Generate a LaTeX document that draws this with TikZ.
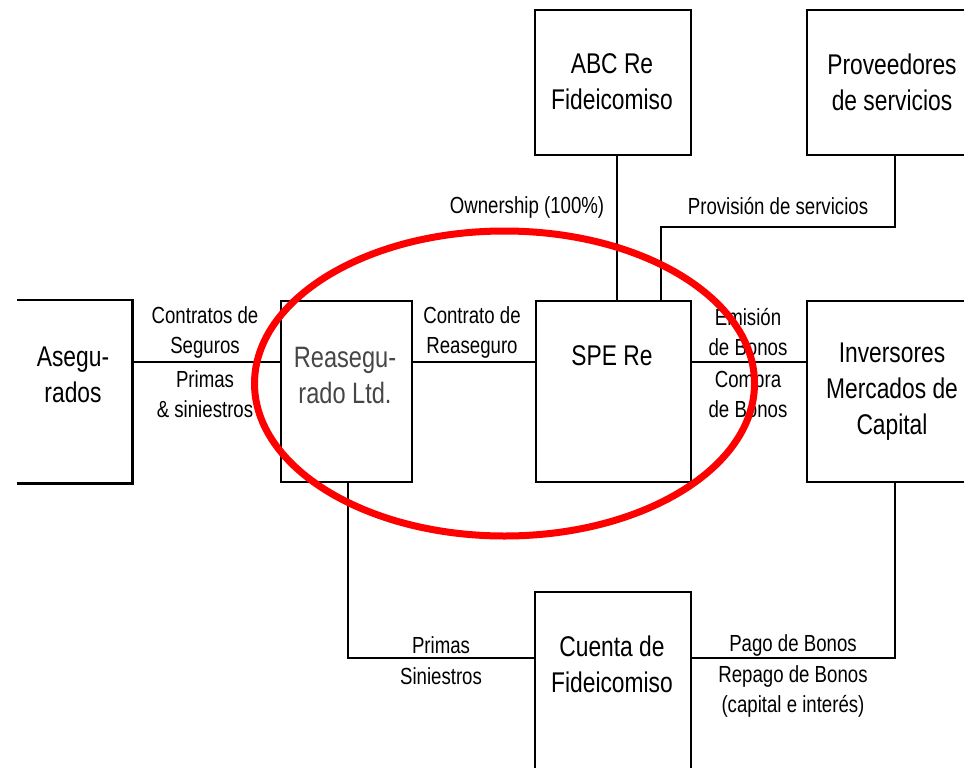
\documentclass[tikz,border=0pt]{standalone}
\usepackage{fontspec}
\setmainfont{Liberation Sans}[FakeStretch=0.8]
\begin{document}
\begin{tikzpicture}[x=1pt,y=-1pt,
  box/.style={draw=black, line width=2.4pt, inner sep=0pt, anchor=north west},
  edge/.style={draw=black, line width=2.4pt},
  btext/.style={font=\fontsize{28.5}{36}\selectfont, align=center, inner sep=0pt},
  lab/.style={font=\fontsize{23.3}{30}\selectfont, align=center, inner sep=0pt},
  ring/.style={draw={rgb,255:red,255;green,0;blue,0}, line width=7pt}]
\useasboundingbox (0,0) rectangle (964,768);
% boxes
\node[box, draw=none, minimum width=120pt, minimum height=181pt] (ase) at (10,300) {};
\draw[edge] ([xshift=7pt]ase.north west) -- (ase.north east) -- (ase.south east) -- ([xshift=7pt]ase.south west);
\node[box, minimum width=131pt, minimum height=181pt] (reaseg) at (280,300) {};
\node[box, minimum width=155pt, minimum height=181pt] (spe) at (535,300) {};
\node[box, minimum width=156pt, minimum height=145pt] (abc) at (534,9) {};
\node[box, minimum width=172pt, minimum height=145pt] (prov) at (806,9) {};
\node[box, minimum width=172pt, minimum height=181pt] (inv) at (806,300) {};
\node[box, minimum width=156pt, minimum height=230pt] (cuenta) at (534,591) {};
% box texts
\node[btext] (tase) at (73,374.5) {Asegu-\\rados};
\node[btext, text={rgb,255:red,70;green,70;blue,70}, font=\fontsize{29.5}{36}\selectfont] (treaseg) at (345,375) {Reasegu-\\rado Ltd.};
\node[btext] (tspe) at (612,356) {SPE Re};
\node[btext] (tabc) at (612,82) {ABC Re\\Fideicomiso};
\node[btext] (tprov) at (892,82) {Proveedores\\de servicios};
\node[btext] (tinv) at (892,392) {Inversores\\Mercados de\\Capital};
\node[btext] (tcuenta) at (612,664.5) {Cuenta de\\Fideicomiso};
% connectors
\draw[edge] (ase.east |- 0,362) -- (reaseg.west |- 0,362);
\draw[edge] (reaseg.east |- 0,362) -- (spe.west |- 0,362);
\draw[edge] (spe.east |- 0,362) -- (inv.west |- 0,362);
\draw[edge] (abc.south -| 617,0) -- (spe.north -| 617,0);
\draw[edge] (prov.south -| 895,0) -- (895,227) -| (spe.north -| 661,0);
\draw[edge] (reaseg.south -| 348,0) |- (cuenta.west |- 0,658);
\draw[edge] (inv.south -| 895,0) |- (cuenta.east |- 0,658);
% connector labels
\node[lab] (l1a) at (205,332) {Contratos de\\Seguros};
\node[lab] (l1b) at (205,394.5) {Primas\\\& siniestros};
\node[lab] (l2) at (472,332) {Contrato de\\Reaseguro};
\node[lab] (l3a) at (748,332) {Emisión\\de Bonos};
\node[lab] (l3b) at (748,394.5) {Compra\\de Bonos};
\node[lab] (l4) at (527,207) {Ownership (100\%)};
\node[lab] (l5) at (778,206) {Provisión de servicios};
\node[lab] (l6a) at (441,645) {Primas};
\node[lab] (l6b) at (441,676) {Siniestros};
\node[lab] (l7a) at (793,645) {Pago de Bonos};
\node[lab] (l7b) at (793,691) {Repago de Bonos\\(capital e interés)};
% red ellipse
\draw[ring] (504.5,383.5) ellipse [x radius=250, y radius=152.5];
\end{tikzpicture}
\end{document}
